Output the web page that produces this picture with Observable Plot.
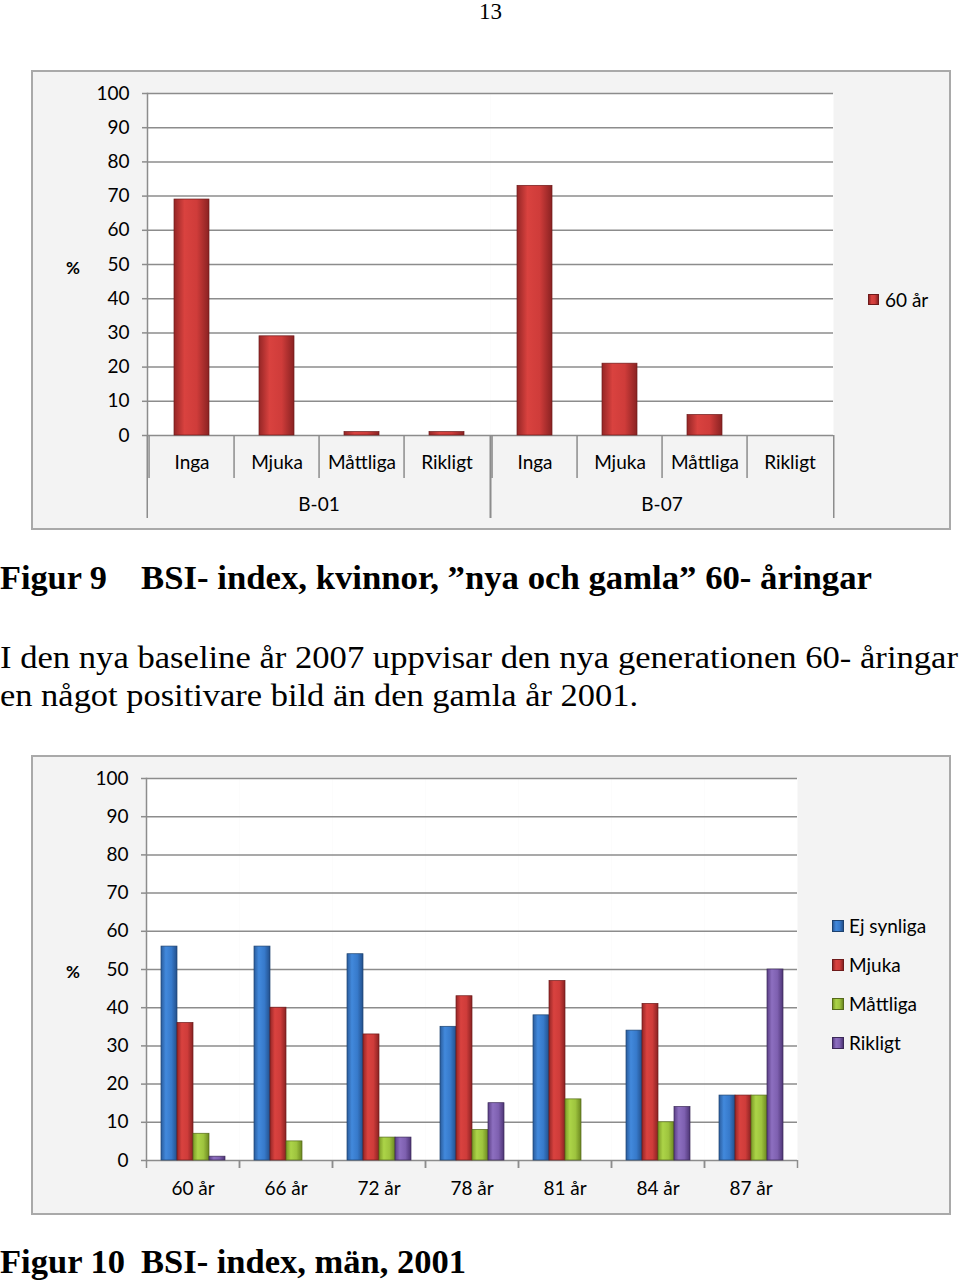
<!DOCTYPE html>
<html><head><meta charset="utf-8">
<script src="https://cdn.jsdelivr.net/npm/d3@7"></script>
<script src="https://cdn.jsdelivr.net/npm/@observablehq/plot@0.6"></script>
<style>
html,body{margin:0;padding:0}
body{width:960px;height:1284px;position:relative;background:#fff;overflow:hidden}
.frame{position:absolute;background:#f3f3f3;border:2px solid #a9a9a9;box-sizing:border-box}
.t{position:absolute;white-space:nowrap;font-family:"Liberation Serif","Times New Roman",serif;color:#000;line-height:1;transform-origin:0 0}
.c{position:absolute;white-space:nowrap;font-family:Lato,"Open Sans",sans-serif;color:#000;line-height:1}
.sw{position:absolute;box-sizing:border-box}
.plot{position:absolute}
</style></head>
<body>
<div class="t" id="pg" style="font-size:23px;left:479px;top:0px">13</div>

<div class="frame" style="left:31px;top:70px;width:920px;height:460px"></div>
<div id="chart1" class="plot" style="left:31px;top:70px"></div>
<div class="c" style="left:66px;top:259px;font-size:17px;font-weight:bold">%</div>
<div id="leg1"></div>

<div class="t" id="fig9a" data-w="107" style="font-size:33px;font-weight:bold;left:0;top:562px">Figur 9</div>
<div class="t" id="fig9b" data-w="731" style="font-size:33px;font-weight:bold;left:141px;top:562px">BSI- index, kvinnor, ”nya och gamla” 60- åringar</div>
<div class="t" id="p1" data-w="958" style="font-size:32px;left:0;top:641px">I den nya baseline år 2007 uppvisar den nya generationen 60- åringar</div>
<div class="t" id="p2" data-w="638" style="font-size:32px;left:0;top:679px">en något positivare bild än den gamla år 2001.</div>

<div class="frame" style="left:31px;top:755px;width:920px;height:460px"></div>
<div id="chart2" class="plot" style="left:31px;top:755px"></div>
<div class="c" style="left:66px;top:963px;font-size:17px;font-weight:bold">%</div>
<div id="leg2"></div>

<div class="t" id="fig10a" data-w="125" style="font-size:33px;font-weight:bold;left:0;top:1246px">Figur 10</div>
<div class="t" id="fig10b" data-w="325" style="font-size:33px;font-weight:bold;left:141px;top:1246px">BSI- index, män, 2001</div>

<script>
// ---------- data ----------
const groups1 = ["B-01", "B-07"];
const levels1 = ["Inga", "Mjuka", "Måttliga", "Rikligt"];
const valuesB01 = [69, 29, 1, 1];
const valuesB07 = [73, 21, 6, 0];
const series1Name = "60 år";

const ages = ["60 år", "66 år", "72 år", "78 år", "81 år", "84 år", "87 år"];
const series2 = ["Ej synliga", "Mjuka", "Måttliga", "Rikligt"];
const ejSynliga = [56, 56, 54, 35, 38, 34, 17];
const mjuka = [36, 40, 33, 43, 47, 41, 17];
const mattliga = [7, 5, 6, 8, 16, 10, 17];
const rikligt = [1, 0, 6, 15, 0, 14, 50];

const yTicks = [0, 10, 20, 30, 40, 50, 60, 70, 80, 90, 100];

// ---------- styles ----------
const grads = {
  gRed:    ["#952626", "#d9423f", "#cf3c3a", "#8a2222"],
  gBlue:   ["#2a5c9c", "#4289dc", "#377acb", "#23508c"],
  gGreen:  ["#7b9a27", "#acd448", "#9ec43e", "#6c8820"],
  gPurple: ["#5a3e85", "#8d6fc0", "#7e60b0", "#4e3576"]
};
const strokes = {gRed: "#6e1a1a", gBlue: "#1d426f", gGreen: "#55691a", gPurple: "#3b2858"};
const seriesGrad = ["gBlue", "gRed", "gGreen", "gPurple"];
const gridColor = "#8c8c8c";

function addDefs(svg) {
  const ns = "http://www.w3.org/2000/svg";
  const defs = document.createElementNS(ns, "defs");
  for (const [id, c] of Object.entries(grads)) {
    const g = document.createElementNS(ns, "linearGradient");
    g.setAttribute("id", id);
    g.setAttribute("x1", "0"); g.setAttribute("x2", "1"); g.setAttribute("y1", "0"); g.setAttribute("y2", "0");
    [[0, c[0]], [0.3, c[1]], [0.65, c[2]], [1, c[3]]].forEach(([o, col]) => {
      const s = document.createElementNS(ns, "stop");
      s.setAttribute("offset", o); s.setAttribute("stop-color", col);
      g.appendChild(s);
    });
    defs.appendChild(g);
  }
  svg.insertBefore(defs, svg.firstChild);
}

const W = 920, H = 460;

// ---------- chart 1 ----------
const data1 = [];
groups1.forEach((g, gi) => {
  const vals = gi === 0 ? valuesB01 : valuesB07;
  levels1.forEach((l, i) => data1.push({group: g, level: l, value: vals[i]}));
});
const ml1 = 115, mr1 = 118, mt1 = 23, mb1 = 95;
const facetW1 = (W - ml1 - mr1) / groups1.length;
const step1 = facetW1 / levels1.length;

const plot1 = Plot.plot({
  width: W, height: H,
  marginLeft: ml1, marginRight: mr1, marginTop: mt1, marginBottom: mb1,
  style: {background: "transparent", fontFamily: "Lato, sans-serif", fontSize: "19px", color: "#000", overflow: "visible"},
  fx: {domain: groups1, padding: 0},
  x: {domain: levels1, paddingInner: 0.59, paddingOuter: 0.295},
  y: {domain: [0, 100]},
  marks: [
    Plot.frame({fill: "white", stroke: null}),
    Plot.gridY(yTicks, {stroke: gridColor, strokeOpacity: 1, strokeWidth: 1.5}),
    Plot.frame({anchor: "left", facetAnchor: "left", stroke: gridColor, strokeWidth: 1.5}),
    Plot.barY(data1, {fx: "group", x: "level", y: "value", fill: "url(#gRed)", stroke: strokes.gRed, strokeWidth: 0.7}),
    Plot.axisY({anchor: "left", ticks: yTicks, tickSize: 5, tickPadding: 13, stroke: gridColor, strokeWidth: 1.5, label: null, fontSize: 19}),
    Plot.axisX({anchor: "bottom", tickSize: 43, tickFormat: () => "", dx: -step1 / 2, stroke: gridColor, strokeWidth: 1.5, label: null}),
    Plot.axisX({anchor: "bottom", tickSize: 0, tickPadding: 20, label: null, fontSize: 19}),
    Plot.axisFx({anchor: "bottom", tickSize: 83, tickFormat: () => "", dx: -facetW1 / 2, stroke: gridColor, strokeWidth: 1.5, label: null}),
    Plot.axisFx({anchor: "bottom", tickSize: 83, tickFormat: () => "", dx: facetW1 / 2, stroke: gridColor, strokeWidth: 1.5, label: null}),
    Plot.axisFx({anchor: "bottom", tickSize: 0, tickPadding: 62, label: null, fontSize: 19})
  ]
});
addDefs(plot1);
document.getElementById("chart1").appendChild(plot1);

// ---------- chart 2 ----------
const seriesVals = [ejSynliga, mjuka, mattliga, rikligt];
const data2 = [];
ages.forEach((a, ai) => series2.forEach((s, si) => data2.push({age: a, series: s, value: seriesVals[si][ai], grad: seriesGrad[si]})));
const ml2 = 115, mr2 = 154, mt2 = 23, mb2 = 55;
const facetW2 = (W - ml2 - mr2) / ages.length;

const plot2 = Plot.plot({
  width: W, height: H,
  marginLeft: ml2, marginRight: mr2, marginTop: mt2, marginBottom: mb2,
  style: {background: "transparent", fontFamily: "Lato, sans-serif", fontSize: "19px", color: "#000", overflow: "visible"},
  fx: {domain: ages, padding: 0},
  x: {domain: series2, paddingInner: 0, paddingOuter: 0.78, axis: null},
  y: {domain: [0, 100]},
  marks: [
    Plot.frame({fill: "white", stroke: null}),
    Plot.gridY(yTicks, {stroke: gridColor, strokeOpacity: 1, strokeWidth: 1.5}),
    Plot.frame({anchor: "left", facetAnchor: "left", stroke: gridColor, strokeWidth: 1.5}),
    Plot.barY(data2, {fx: "age", x: "series", y: "value", fill: d => `url(#${d.grad})`, stroke: d => strokes[d.grad], strokeWidth: 0.7}),
    Plot.axisY({anchor: "left", ticks: yTicks, tickSize: 5, tickPadding: 13, stroke: gridColor, strokeWidth: 1.5, label: null, fontSize: 19}),
    Plot.axisFx({anchor: "bottom", tickSize: 8, tickFormat: () => "", dx: -facetW2 / 2, stroke: gridColor, strokeWidth: 1.5, label: null}),
    Plot.axisFx({anchor: "bottom", tickSize: 8, tickFormat: () => "", dx: facetW2 / 2, stroke: gridColor, strokeWidth: 1.5, label: null}),
    Plot.axisFx({anchor: "bottom", tickSize: 0, tickPadding: 21, label: null, fontSize: 19})
  ]
});
addDefs(plot2);
document.getElementById("chart2").appendChild(plot2);

// ---------- legends ----------
function swatch(grad) {
  const c = grads[grad];
  return `linear-gradient(to right, ${c[0]}, ${c[1]} 30%, ${c[2]} 65%, ${c[3]})`;
}
document.getElementById("leg1").innerHTML =
  `<div class="sw" style="left:868px;top:294px;width:11px;height:11px;background:${swatch("gRed")};border:1px solid ${strokes.gRed}"></div>
   <div class="c" style="left:885px;top:290px;font-size:19px">${series1Name}</div>`;
document.getElementById("leg2").innerHTML = series2.map((s, i) => {
  const y = 926 + i * 39;
  return `<div class="sw" style="left:832px;top:${y - 6}px;width:12px;height:12px;background:${swatch(seriesGrad[i])};border:1px solid ${strokes[seriesGrad[i]]}"></div>
   <div class="c" style="left:849px;top:${y - 10}px;font-size:19px">${s}</div>`;
}).join("");

// ---------- fit page text widths ----------
function fit() {
  document.querySelectorAll(".t[data-w]").forEach(el => {
    el.style.transform = "none";
    const w = el.getBoundingClientRect().width;
    const target = +el.dataset.w;
    el.style.transform = `scaleX(${target / w})`;
  });
}
fit();
if (document.fonts && document.fonts.ready) document.fonts.ready.then(fit);
</script>
</body></html>
